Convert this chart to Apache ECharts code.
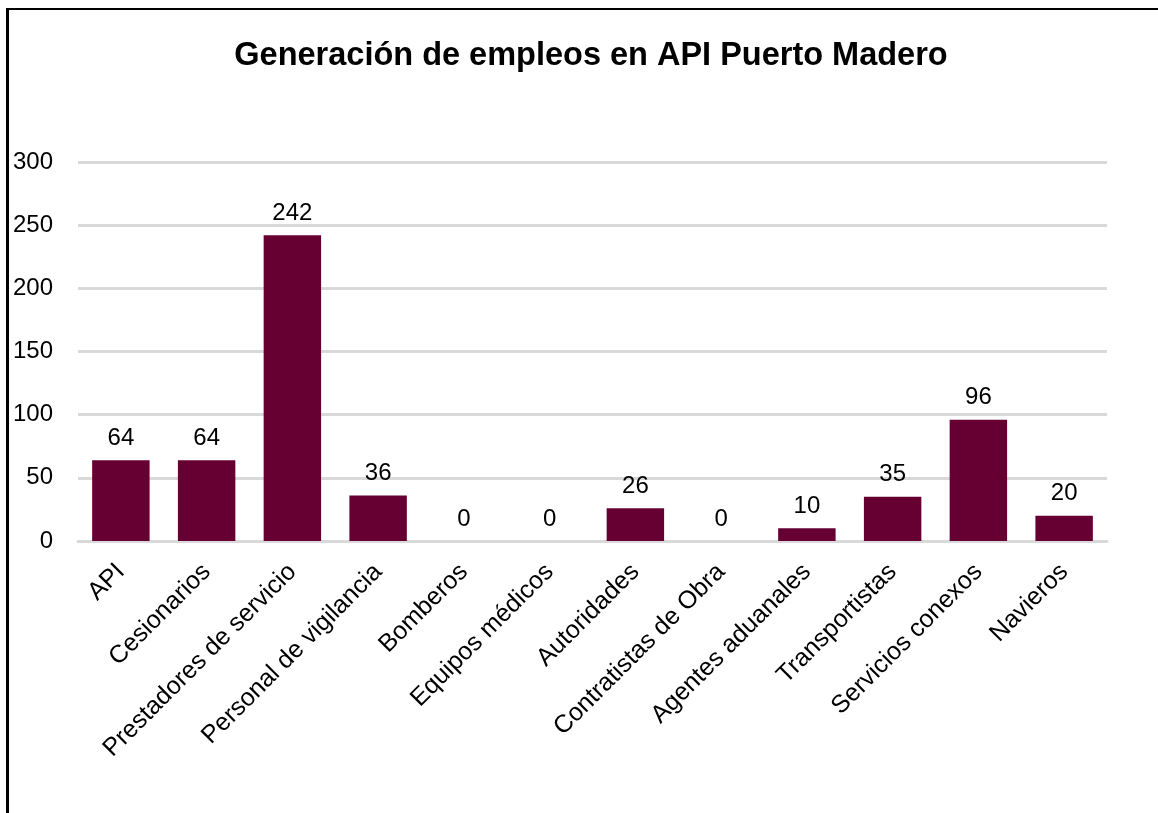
<!DOCTYPE html>
<html>
<head>
<meta charset="utf-8">
<script src="https://cdn.jsdelivr.net/npm/echarts@6/dist/echarts.min.js"></script>
<style>
  html, body { margin: 0; padding: 0; background: #fff; }
  #frame {
    position: absolute; left: 6px; top: 8px; width: 1152px; height: 805px;
    border-left: 3px solid #000; border-top: 2px solid #000; box-sizing: border-box;
  }
  #main { position: absolute; left: 0; top: 0; width: 1158px; height: 813px; }
</style>
</head>
<body>
<div id="frame"></div>
<div id="main"></div>
<script>
// categorias del eje x
const categorias = [
  "API", "Cesionarios", "Prestadores de servicio", "Personal de vigilancia",
  "Bomberos", "Equipos médicos", "Autoridades", "Contratistas de Obra",
  "Agentes aduanales", "Transportistas", "Servicios conexos", "Navieros"
];
// empleos por categoria
const empleos = [64, 64, 242, 36, 0, 0, 26, 0, 10, 35, 96, 20];
// marcas del eje y
const yTicks = [0, 50, 100, 150, 200, 250, 300];

const chart = echarts.init(document.getElementById("main"));
const option = {
  animation: false,
  title: {
    text: "Generación de empleos en API Puerto Madero",
    left: 586,
    textAlign: "center",
    top: 35,
    textStyle: { fontFamily: "Liberation Sans", fontSize: 32.5, fontWeight: "bold", color: "#000" }
  },
  grid: { left: 78, right: 51, top: 162, bottom: 272 },
  xAxis: {
    type: "category",
    data: categorias,
    axisLine: { lineStyle: { color: "#d9d9d9", width: 3 } },
    axisTick: { show: false },
    axisLabel: {
      rotate: 45, interval: 0, margin: 27,
      fontFamily: "Liberation Sans", fontSize: 25, color: "#000"
    }
  },
  yAxis: {
    type: "value",
    min: yTicks[0],
    max: yTicks[yTicks.length - 1],
    interval: 50,
    axisLine: { show: false },
    axisTick: { show: false },
    splitLine: { lineStyle: { color: "#d9d9d9", width: 3 } },
    axisLabel: { margin: 25, fontFamily: "Liberation Sans", fontSize: 24, color: "#000" }
  },
  series: [{
    type: "bar",
    data: empleos,
    barCategoryGap: "33%",
    itemStyle: { color: "#660033" },
    label: {
      show: true, position: "top", distance: 10,
      fontFamily: "Liberation Sans", fontSize: 24, color: "#000"
    }
  }]
};
chart.setOption(option);
</script>
</body>
</html>
